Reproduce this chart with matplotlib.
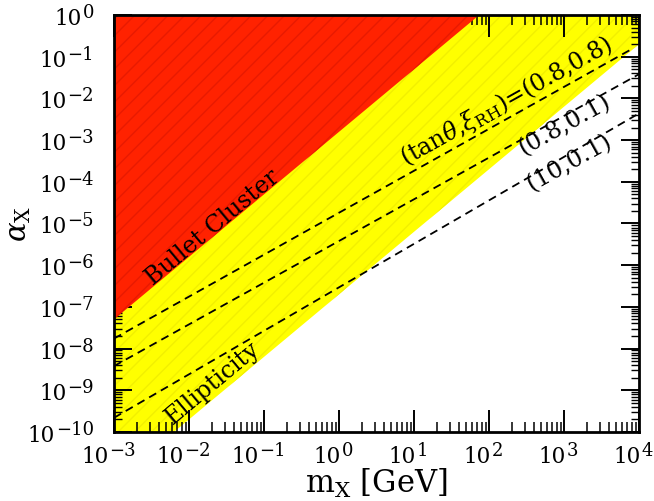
import numpy as np
import matplotlib
matplotlib.use("Agg")
import matplotlib.pyplot as plt
import matplotlib.transforms as mtransforms
from matplotlib.ticker import LogLocator, NullFormatter

plt.rcParams["font.family"] = "DejaVu Serif"
plt.rcParams["mathtext.fontset"] = "dejavuserif"
plt.rcParams["hatch.linewidth"] = 1.0

# region boundaries (m_X in GeV, alpha_X)
bullet_m = [1e-3, 10**1.87]
bullet_alpha = [10**-7.3, 1.0]

ellip_m = [1e-3, 10**-2.2, 1e4]
ellip_alpha = [1e-10, 1e-10, 10**-0.7]

# dashed curves (tan theta, xi_RH)
line_labels = ["(0.8,0.8)", "(0.8,0.1)", "(10,0.1)"]
line_m = [[1e-3, 10**3.88], [1e-3, 1e4], [1e-3, 1e4]]
line_alpha = [[10**-7.76, 10**-0.84], [10**-8.42, 10**-1.42], [10**-9.66, 10**-2.36]]

x_decades = list(range(-3, 5))
y_decades = list(range(-10, 1))
x_lim = (1e-3, 1e4)
y_lim = (1e-10, 1.0)

RED = "#FF2200"
RED_HATCH = "#E81A00"
YELLOW = "#FFFF00"
YELLOW_HATCH = "#F2F000"


def line_angle(ax, xs, ys):
    p = ax.transData.transform(np.column_stack([xs, ys]))
    return np.degrees(np.arctan2(p[-1, 1] - p[0, 1], p[-1, 0] - p[0, 0]))


def shift(fig, dx, dy):
    # offset in pixels (dpi = 100)
    return mtransforms.ScaledTranslation(dx / 100.0, dy / 100.0, fig.dpi_scale_trans)


def power_label(fig, ax, renderer, pos, trans, exp, axis):
    # "10" plus a large exponent, drawn as two texts
    exp_str = str(exp).replace("-", "\u2212")
    t1 = ax.text(pos[0], pos[1], "10", fontsize=15.5, transform=trans,
                 ha="left", va="baseline", clip_on=False)
    t2 = ax.text(pos[0], pos[1], exp_str, fontsize=13, transform=trans,
                 ha="left", va="baseline", clip_on=False)
    w1 = t1.get_window_extent(renderer).width
    w2 = t2.get_window_extent(renderer).width
    if axis == "x":
        left = -6 - (w1 + w2) / 2.0
        base = -30
    else:
        left = -21 - (w1 + w2)
        base = -9
    t1.set_transform(trans + shift(fig, left, base))
    t2.set_transform(trans + shift(fig, left + w1 + 1, base + 7))


fig = plt.figure(figsize=(6.54, 5.02), dpi=100)
ax = fig.add_axes([0.1743, 0.1375, 0.8028, 0.8307])
ax.set_xscale("log")
ax.set_yscale("log")
ax.set_xlim(x_lim)
ax.set_ylim(y_lim)

# yellow: ellipticity excluded region
ax.fill_between(ellip_m, ellip_alpha, y_lim[1], facecolor=YELLOW,
                edgecolor=YELLOW_HATCH, hatch="//", linewidth=0, zorder=1)
# red: bullet cluster excluded region
ax.fill_between(bullet_m, bullet_alpha, y_lim[1], facecolor=RED,
                edgecolor=RED_HATCH, hatch="//", linewidth=0, zorder=2)

for xs, ys in zip(line_m, line_alpha):
    ax.plot(xs, ys, color="black", linestyle=(0, (4.5, 3)), linewidth=1.3, zorder=3)

# labels along the boundaries
ax.text(10**-1.69, 10**-5.08, "Bullet Cluster", fontsize=17,
        rotation=line_angle(ax, bullet_m, bullet_alpha),
        ha="center", va="center", rotation_mode="anchor", zorder=4)
ax.text(10**-1.69, 10**-8.8, "Ellipticity", fontsize=17,
        rotation=line_angle(ax, ellip_m[1:], ellip_alpha[1:]),
        ha="center", va="center", rotation_mode="anchor", zorder=4)

ang = line_angle(ax, line_m[0], line_alpha[0])
ax.text(10**2.23, 10**-2.06, r"(tan$\theta$,$\xi_{\rm RH}$)=" + line_labels[0],
        fontsize=17, rotation=ang, ha="center", va="center",
        rotation_mode="anchor", zorder=4)
ax.text(10**3.01, 10**-2.61, line_labels[1], fontsize=17, rotation=ang,
        ha="center", va="center", rotation_mode="anchor", zorder=4)
ax.text(10**3.07, 10**-3.52, line_labels[2], fontsize=17, rotation=ang,
        ha="center", va="center", rotation_mode="anchor", zorder=4)

# ticks, inward on all sides
ax.xaxis.set_major_locator(LogLocator(base=10, numticks=20))
ax.xaxis.set_minor_locator(LogLocator(base=10, subs=np.arange(2, 10), numticks=20))
ax.yaxis.set_major_locator(LogLocator(base=10, numticks=20))
ax.yaxis.set_minor_locator(LogLocator(base=10, subs=np.arange(2, 10), numticks=20))
for a in (ax.xaxis, ax.yaxis):
    a.set_major_formatter(NullFormatter())
    a.set_minor_formatter(NullFormatter())
ax.tick_params(axis="x", which="major", direction="in", length=16, width=1.4,
               top=True, bottom=True)
ax.tick_params(axis="x", which="minor", direction="in", length=7, width=1.1,
               top=True, bottom=True)
ax.tick_params(axis="y", which="major", direction="in", length=13, width=1.4,
               left=True, right=True)
ax.tick_params(axis="y", which="minor", direction="in", length=6, width=1.0,
               left=True, right=True)
for s in ax.spines.values():
    s.set_linewidth(2)
    s.set_zorder(5)

# tick labels 10^n with big exponents
renderer = fig.canvas.get_renderer()
xtrans = mtransforms.blended_transform_factory(ax.transData, ax.transAxes)
ytrans = mtransforms.blended_transform_factory(ax.transAxes, ax.transData)
for e in x_decades:
    power_label(fig, ax, renderer, (10.0**e, 0), xtrans, e, "x")
for e in y_decades:
    power_label(fig, ax, renderer, (0, 10.0**e), ytrans, e, "y")

ax.set_xlabel(r"m$_{\rm X}$ [GeV]", fontsize=22, va="top")
ax.xaxis.set_label_coords(0.5, -0.082)
ax.set_ylabel(r"$\alpha_{\rm X}$", fontsize=21)
ax.yaxis.set_label_coords(-0.155, 0.5)

fig.savefig("out.png", dpi=100)
